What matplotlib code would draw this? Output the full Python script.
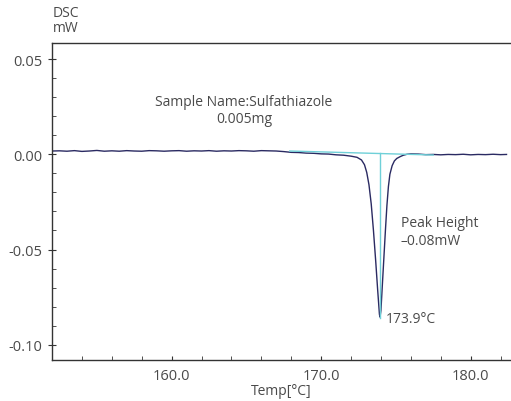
import matplotlib
matplotlib.use("Agg")
import matplotlib.pyplot as plt
from matplotlib.ticker import MultipleLocator, FormatStrFormatter

# DSC trace (temperature in degC, heat flow in mW)
temp = [152.0, 152.5, 153.0, 153.5, 154.0, 154.5, 155.0, 155.5, 156.0, 156.5,
        157.0, 157.5, 158.0, 158.5, 159.0, 159.5, 160.0, 160.5, 161.0, 161.5,
        162.0, 162.5, 163.0, 163.5, 164.0, 164.5, 165.0, 165.5, 166.0, 166.5,
        167.0, 167.5, 168.0, 168.5, 169.0, 169.5, 170.0, 170.5, 171.0, 171.5,
        172.0, 172.4, 172.7, 172.9, 173.05, 173.2, 173.35, 173.5, 173.65, 173.78,
        173.9, 173.94, 174.0, 174.1, 174.2, 174.3, 174.4, 174.5, 174.6, 174.75,
        174.9, 175.06, 175.3, 175.5, 175.75, 176.0, 176.5, 177.0, 177.5, 178.0,
        178.5, 179.0, 179.5, 180.0, 180.5, 181.0, 181.5, 182.0, 182.4]
dsc = [0.0017, 0.0018, 0.0016, 0.0019, 0.0015, 0.0017, 0.0020, 0.0016, 0.0018, 0.0016,
       0.0019, 0.0017, 0.0016, 0.0019, 0.0018, 0.0016, 0.0018, 0.0019, 0.0016, 0.0018,
       0.0017, 0.0019, 0.0016, 0.0018, 0.0017, 0.0019, 0.0018, 0.0016, 0.0019, 0.0018,
       0.0017, 0.0014, 0.0010, 0.0009, 0.0006, 0.0005, 0.0002, 0.0001, -0.0003, -0.0005,
       -0.0010, -0.0016, -0.0030, -0.0055, -0.0095, -0.0160, -0.0260, -0.0400, -0.0560, -0.0710,
       -0.0840, -0.0855, -0.0820, -0.0680, -0.0540, -0.0400, -0.0270, -0.0170, -0.0105, -0.0060,
       -0.0035, -0.0022, -0.0012, -0.0005, 0.0000, 0.0002, 0.0001, -0.0002, -0.0001, -0.0003,
       -0.0001, -0.0002, 0.0000, -0.0003, -0.0001, -0.0002, 0.0000, -0.0002, -0.0001]

# tangent baseline and peak marker
base_t = [167.9, 177.5]
base_v = [0.0017, -0.0004]
peak_t = 173.94
peak_top = 0.0004
peak_bottom = -0.0862

plt.rcParams['font.family'] = ['Open Sans', 'DejaVu Sans']
plt.rcParams['axes.unicode_minus'] = False

text_color = '#4a4a4a'
fig = plt.figure(figsize=(5.11, 4.02), dpi=100)
ax = fig.add_axes([52 / 511, 1 - 361 / 402, 1 - 52 / 511, (361 - 44) / 402])

ax.plot(temp, dsc, color='#2a2a62', lw=1.0)
ax.plot(base_t, base_v, color='#6fd0d8', lw=1.0)
ax.plot([peak_t, peak_t], [peak_top, peak_bottom], color='#6fd0d8', lw=1.0)

ax.set_xlim(152.0, 182.7)
ax.set_ylim(-0.108, 0.0584)

ax.xaxis.set_major_locator(MultipleLocator(10))
ax.xaxis.set_minor_locator(MultipleLocator(2))
ax.yaxis.set_major_locator(MultipleLocator(0.05))
ax.yaxis.set_minor_locator(MultipleLocator(0.01))
ax.xaxis.set_major_formatter(FormatStrFormatter('%.1f'))
ax.yaxis.set_major_formatter(FormatStrFormatter('%.2f'))

ax.spines['right'].set_visible(False)
for s in ['left', 'bottom', 'top']:
    ax.spines[s].set_color('#333333')
    ax.spines[s].set_linewidth(1.0)

ax.tick_params(axis='x', which='both', direction='in', length=3, color='#333333',
               labelsize=10.5, labelcolor=text_color, pad=6)
ax.tick_params(axis='y', which='major', direction='inout', length=6, color='#333333',
               labelsize=10.5, labelcolor=text_color, pad=4)
ax.tick_params(axis='y', which='minor', direction='in', length=3, color='#333333')

ax.set_xlabel('Temp[°C]', fontsize=10, color=text_color, labelpad=0)

fig.text(53 / 511, 1 - 21 / 402, 'DSC\nmW', fontsize=10, color=text_color,
         ha='left', va='center', linespacing=1.0)

ax.text(164.85, 0.0232, 'Sample Name:Sulfathiazole\n0.005mg', fontsize=10,
        color=text_color, ha='center', va='center', linespacing=1.15)
ax.text(175.34, -0.0405, 'Peak Height\n–0.08mW', fontsize=10,
        color=text_color, ha='left', va='center', linespacing=1.3)
ax.text(174.3, -0.0863, '173.9°C', fontsize=10, color=text_color,
        ha='left', va='center')

fig.savefig('out.png', dpi=100)
